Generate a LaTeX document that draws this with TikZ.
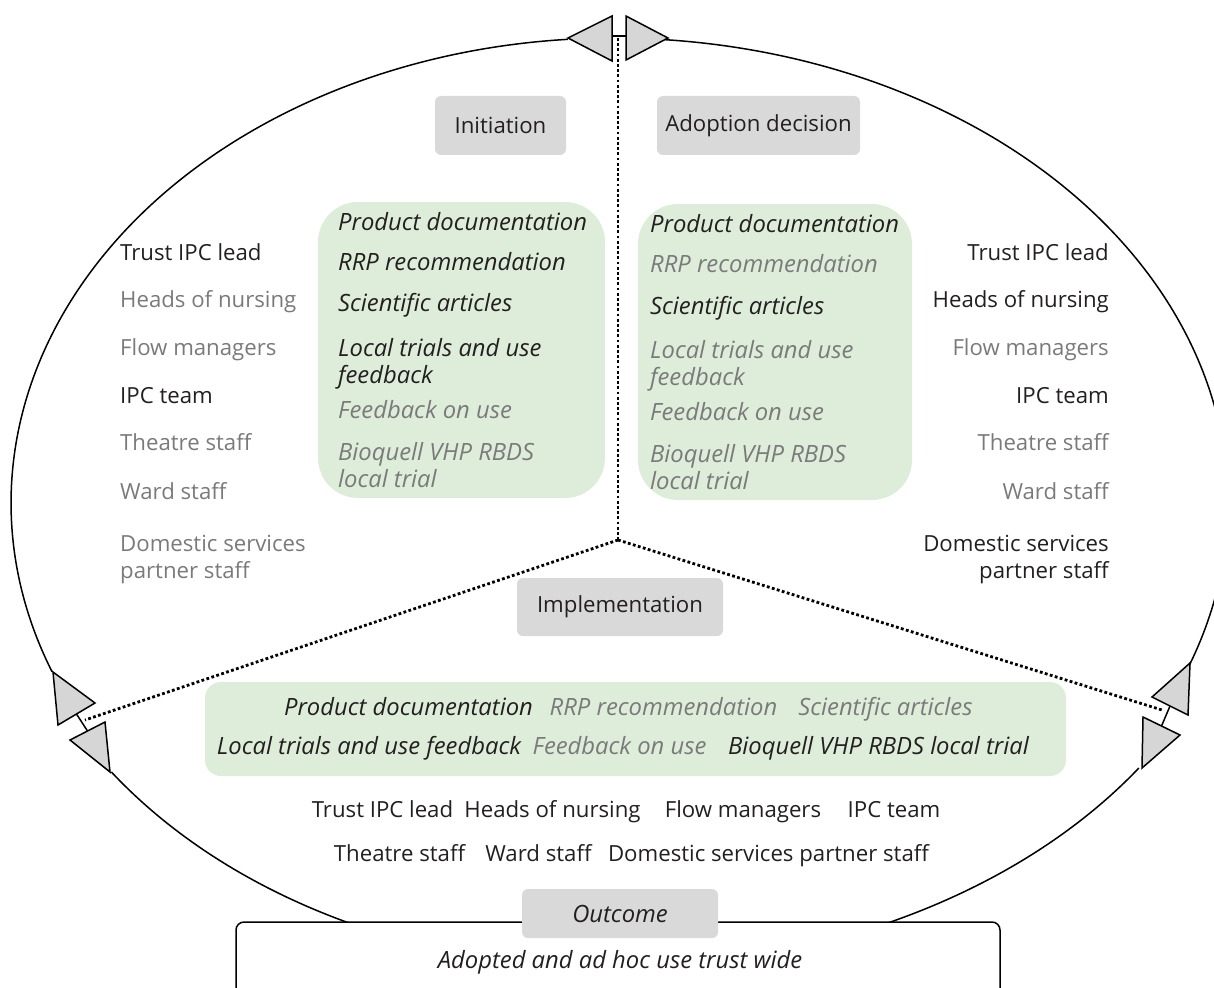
\documentclass[tikz,border=0pt]{standalone}
\usepackage{fontspec}
\setmainfont{Open Sans}
\definecolor{ink}{HTML}{231F20}
\definecolor{soft}{HTML}{7A7A7A}
\definecolor{boxgray}{HTML}{D9D9D9}
\definecolor{tipgray}{HTML}{D6D6D6}
\definecolor{evgreen}{HTML}{DEEDDA}
\newcommand{\txtsize}{\fontsize{22.2}{27}\selectfont}
\newcommand{\itsize}{\fontsize{23.8}{27}\selectfont\itshape}
\begin{document}
\begin{tikzpicture}[x=1pt,y=-1pt,
  every node/.style={inner sep=0pt, font=\txtsize, text=ink},
  it/.style={font=\itsize},
  dim/.style={text=soft},
  ring/.style={line width=1.5pt, draw=black},
  tipshape/.style={fill=tipgray, draw=black, line width=1.5pt, line join=miter},
  phase/.style={fill=boxgray, rounded corners=6pt},
  evidence/.style={fill=evgreen},
  divider/.style={line width=2.8pt, dash pattern=on 2.8pt off 2.4pt, draw=black},
]
\useasboundingbox (0,0) rectangle (1214,987);
\clip (0,0) rectangle (1214,987);

% evidence panels
\fill[evidence, rounded corners=40pt] (318,202) rectangle (605,498);
\fill[evidence, rounded corners=40pt] (638,204) rectangle (912,500);
\fill[evidence, rounded corners=16pt] (205,682) rectangle (1066,776);

% cycle ring: arcs between the junction arrowheads
\draw[ring] (613,503) ++(265.7:602 and 465) arc[start angle=265.7, end angle=158.7, x radius=602, y radius=465];
\draw[ring] (613,503) ++(144.65:615 and 465) arc[start angle=144.65, end angle=90, x radius=615, y radius=465];
\draw[ring] (613,503) ++(274.9:615 and 465) arc[start angle=274.9, end angle=380.4, x radius=615, y radius=465];
\draw[ring] (613,503) ++(34.75:640 and 465) arc[start angle=34.75, end angle=90, x radius=640, y radius=465];

% dividers between the three phases
\coordinate (hub) at (618,540);
\coordinate (topend) at (618,38);
\coordinate (leftend) at (85,720);
\coordinate (rightend) at (1162,710);
\draw[divider] (topend) -- (hub);
\draw[divider] (hub) -- (leftend);
\draw[divider] (hub) -- (rightend);

% junction arrowheads
\draw[line width=1.5pt] (612,36) -- (626,36);
\draw[tipshape] (568,38) -- (612,16) -- (612,61) -- cycle;
\draw[tipshape] (668,38) -- (626,16) -- (626,60) -- cycle;
\draw[line width=1.5pt] (76.5,714) -- (87.5,731);
\draw[tipshape] (53,672) -- (58,725) -- (95,703) -- cycle;
\draw[tipshape] (110,772) -- (70,740) -- (105,722) -- cycle;
\draw[line width=1.5pt] (1170,706) -- (1161.5,726);
\draw[tipshape] (1190,663) -- (1188,715) -- (1152,697) -- cycle;
\draw[tipshape] (1142,768) -- (1143,717) -- (1180,735) -- cycle;

% phase labels
\node[phase, minimum width=131pt, minimum height=59pt] (init) at (500.5,125.5) {Initiation};
\node[phase, minimum width=203pt, minimum height=59pt] (adopt) at (758.5,125.5) {Adoption decision};
\node[phase, minimum width=206pt, minimum height=58pt] (impl) at (620,607) {Implementation};

% outcome
\draw[fill=white, line width=1.5pt, rounded corners=8pt] (236,922) rectangle (1000,1010);
\node[phase, minimum width=196pt, minimum height=49pt, it] (outlbl) at (620,913.5) {Outcome};
\node[it, anchor=base] (outtxt) at (620,968) {Adopted and ad hoc use trust wide};

% initiation evidence
\node[it, anchor=base west] (i1) at (338,230) {Product documentation};
\node[it, anchor=base west] (i2) at (338,270) {RRP recommendation};
\node[it, anchor=base west] (i3) at (338,311) {Scientific articles};
\node[it, anchor=base west, align=left] (i4) at (338,383) {Local trials and use\\feedback};
\node[it, dim, anchor=base west] (i5) at (338,418) {Feedback on use};
\node[it, dim, anchor=base west, align=left] (i6) at (338,487) {Bioquell VHP RBDS\\local trial};

% adoption evidence
\node[it, anchor=base west] (a1) at (650,232) {Product documentation};
\node[it, dim, anchor=base west] (a2) at (650,272) {RRP recommendation};
\node[it, anchor=base west] (a3) at (650,314) {Scientific articles};
\node[it, dim, anchor=base west, align=left] (a4) at (650,385) {Local trials and use\\feedback};
\node[it, dim, anchor=base west] (a5) at (650,420) {Feedback on use};
\node[it, dim, anchor=base west, align=left] (a6) at (650,489) {Bioquell VHP RBDS\\local trial};

% initiation staff
\node[anchor=base west] (is1) at (120,260) {Trust IPC lead};
\node[dim, anchor=base west] (is2) at (120,307) {Heads of nursing};
\node[dim, anchor=base west] (is3) at (120,355) {Flow managers};
\node[anchor=base west] (is4) at (120,403) {IPC team};
\node[dim, anchor=base west] (is5) at (120,450) {Theatre staff};
\node[dim, anchor=base west] (is6) at (120,499) {Ward staff};
\node[dim, anchor=base west, align=left] (is7) at (120,578) {Domestic services\\partner staff};

% adoption staff
\node[anchor=base east] (as1) at (1109,260) {Trust IPC lead};
\node[anchor=base east] (as2) at (1109,307) {Heads of nursing};
\node[dim, anchor=base east] (as3) at (1109,355) {Flow managers};
\node[anchor=base east] (as4) at (1109,403) {IPC team};
\node[dim, anchor=base east] (as5) at (1109,450) {Theatre staff};
\node[dim, anchor=base east] (as6) at (1109,499) {Ward staff};
\node[anchor=base east, align=right] (as7) at (1109,578) {Domestic services\\partner staff};

% implementation evidence
\node[it, anchor=base] (m1) at (408.5,715) {Product documentation};
\node[it, dim, anchor=base] (m2) at (663.5,715) {RRP recommendation};
\node[it, dim, anchor=base] (m3) at (885.5,715) {Scientific articles};
\node[it, anchor=base] (m4) at (369,754) {Local trials and use feedback};
\node[it, dim, anchor=base] (m5) at (619.5,754) {Feedback on use};
\node[it, anchor=base] (m6) at (878.5,754) {Bioquell VHP RBDS local trial};

% implementation staff
\node[anchor=base] (ms1) at (382.5,817) {Trust IPC lead};
\node[anchor=base] (ms2) at (552.5,817) {Heads of nursing};
\node[anchor=base] (ms3) at (743,817) {Flow managers};
\node[anchor=base] (ms4) at (894,817) {IPC team};
\node[anchor=base] (ms5) at (399.5,861) {Theatre staff};
\node[anchor=base] (ms6) at (538.5,861) {Ward staff};
\node[anchor=base] (ms7) at (768.5,861) {Domestic services partner staff};
\end{tikzpicture}
\end{document}
